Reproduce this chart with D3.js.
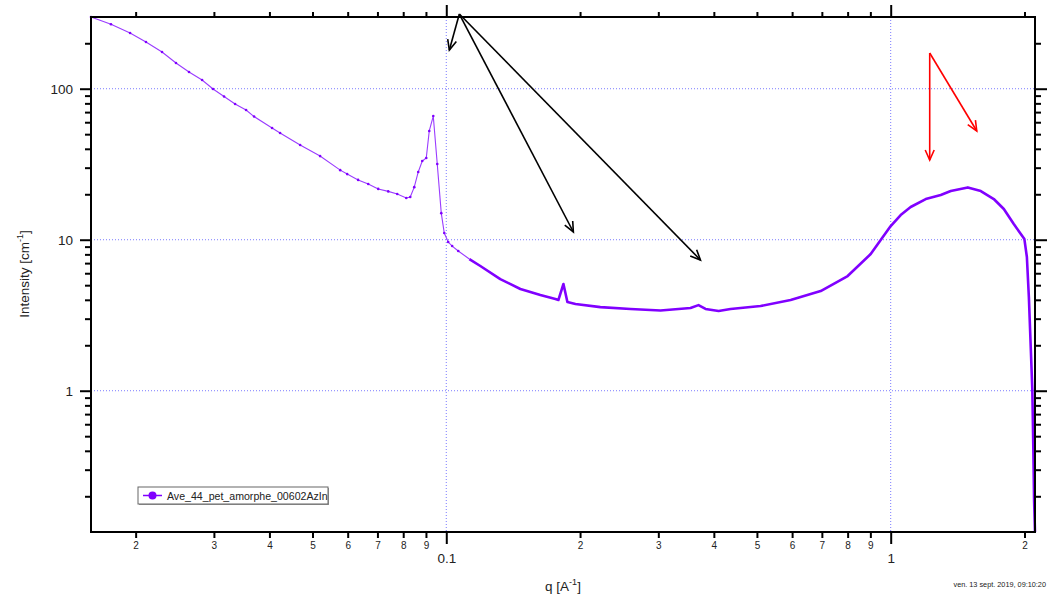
<!DOCTYPE html>
<html><head><meta charset="utf-8">
<script src="https://cdn.jsdelivr.net/npm/d3@7"></script>
<style>
body{margin:0;background:#fff;}
svg{display:block;font-family:Arial,"Liberation Sans",sans-serif;}
</style>
</head><body>
<svg id="c" width="1049" height="598"></svg>
<script>
// ---- data ----
const q = [0.01587,0.0176,0.01943,0.0211,0.02293,0.02465,0.02637,0.02822,0.02987,0.03162,
  0.03348,0.03544,0.03694,0.04055,0.04227,0.0469,0.052,0.05773,0.05984,0.06333,
  0.06674,0.07028,0.07403,0.07755,0.08127,0.08297,0.08471,0.08648,0.08829,0.09015,
  0.09156,0.09348,0.09543,0.09744,0.09896,0.101,0.1031,0.1064,0.1127,0.1193,
  0.1323,0.1468,0.1628,0.176,0.1788,0.1835,0.1873,0.1953,0.2222,0.2597,
  0.3034,0.3544,0.3694,0.3831,0.41,0.4362,0.5095,0.5954,0.6957,0.8001,
  0.9016,0.9495,1.0,1.053,1.109,1.199,1.296,1.365,1.491,1.595,
  1.706,1.797,1.892,1.999,2.025,2.046,2.067,2.083,2.094,2.102,2.112];
const intensity = [298.5,267,233.8,203.9,175,148,129,114.2,99.5,88.8,
  79.2,72.3,65.4,54.9,50.9,42.4,35.8,28.9,27.2,24.9,
  23.4,21.7,20.9,20.1,18.9,19.2,22.3,28.1,33.2,34.8,
  52.5,65.9,31.7,15.0,11.08,9.65,9.08,8.42,7.45,6.70,
  5.49,4.72,4.30,4.05,3.99,5.09,3.87,3.75,3.58,3.48,
  3.40,3.53,3.69,3.48,3.37,3.48,3.64,3.99,4.57,5.75,
  8.04,9.95,12.32,14.57,16.47,18.60,19.77,21.0,22.2,21.0,
  18.6,15.97,12.71,10.1,7.68,4.17,1.86,1.01,0.405,0.189,0.116];
const seriesName = "Ave_44_pet_amorphe_00602AzIn";

const xDomain = [0.01587, 2.112];
const yDomain = [0.116, 298.5];

const xMajorTicks = [0.1, 1];
const xMajorLabels = ["0.1", "1"];
const xMinorTicks = [0.02,0.03,0.04,0.05,0.06,0.07,0.08,0.09,0.2,0.3,0.4,0.5,0.6,0.7,0.8,0.9,2];
const xMinorLabels = ["2","3","4","5","6","7","8","9","2","3","4","5","6","7","8","9","2"];
const yMajorTicks = [1, 10, 100];
const yMajorLabels = ["1", "10", "100"];
const yMinorTicks = [0.2,0.3,0.4,0.5,0.6,0.7,0.8,0.9,2,3,4,5,6,7,8,9,20,30,40,50,60,70,80,90,200];

const xTitle = "q [A";
const yTitle = "Intensity [cm";
const dateStamp = "ven. 13 sept. 2019, 09:10:20";

// annotation arrows, in data coordinates [q, I]
const blackArrowFrom = [0.1070, 312.4];
const blackArrowTips = [[0.1016, 180.4], [0.1932, 11.25], [0.3732, 7.34]];
const redArrowFrom = [1.224, 172.4];
const redArrowTips = [[1.224, 33.7], [1.562, 52.5]];

// ---- layout ----
const L = 91, T = 17, R = 1035, B = 532;
const svg = d3.select("#c");
const x = d3.scaleLog().domain(xDomain).range([L, R]);
const y = d3.scaleLog().domain(yDomain).range([B, T]);

const purple = "#8000ff";
const gridColor = "#7b7bff";

// grid
const g = svg.append("g");
g.selectAll(".gy").data(yMajorTicks).join("line")
  .attr("x1", L).attr("x2", R).attr("y1", d => y(d)).attr("y2", d => y(d))
  .attr("stroke", gridColor).attr("stroke-width", 1).attr("stroke-dasharray", "1,2");
g.selectAll(".gx").data(xMajorTicks).join("line")
  .attr("y1", T).attr("y2", B).attr("x1", d => x(d)).attr("x2", d => x(d))
  .attr("stroke", gridColor).attr("stroke-width", 1).attr("stroke-dasharray", "1,2");

// data
const pts = q.map((v, i) => ({q: v, I: intensity[i]}));
const line = d3.line().x(d => x(d.q)).y(d => y(d.I));
const splitIdx = q.findIndex(v => v >= 0.112);
svg.append("path").datum(pts.slice(0, splitIdx + 1)).attr("d", line)
  .attr("fill", "none").attr("stroke", "#9a3cff").attr("stroke-width", 1.1);
svg.append("path").datum(pts.slice(splitIdx)).attr("d", line)
  .attr("fill", "none").attr("stroke", purple).attr("stroke-width", 2.6)
  .attr("stroke-linejoin", "round");
svg.append("g").selectAll("circle").data(pts.slice(0, splitIdx)).join("circle")
  .attr("cx", d => x(d.q)).attr("cy", d => y(d.I)).attr("r", 1.3).attr("fill", purple);

// axes
function styleAxis(sel, fontSize) {
  sel.select(".domain").remove();
  sel.selectAll(".tick line").attr("stroke", "#000").attr("stroke-width", 2);
  sel.selectAll(".tick text").attr("fill", "#222").attr("font-size", fontSize)
    .attr("font-family", "Arial, 'Liberation Sans', sans-serif");
}
// bottom
svg.append("g").attr("transform", `translate(0,${B})`)
  .call(d3.axisBottom(x).tickValues(xMajorTicks).tickSize(12).tickPadding(9)
    .tickFormat((d, i) => xMajorLabels[i])).call(s => styleAxis(s, 13.5));
svg.append("g").attr("transform", `translate(0,${B})`)
  .call(d3.axisBottom(x).tickValues(xMinorTicks).tickSize(6).tickPadding(4)
    .tickFormat((d, i) => xMinorLabels[i])).call(s => styleAxis(s, 10));
// top
svg.append("g").attr("transform", `translate(0,${T})`)
  .call(d3.axisTop(x).tickValues(xMajorTicks).tickSize(12).tickFormat(""))
  .call(s => styleAxis(s, 10));
svg.append("g").attr("transform", `translate(0,${T})`)
  .call(d3.axisTop(x).tickValues(xMinorTicks).tickSize(5).tickFormat(""))
  .call(s => styleAxis(s, 10));
// left
svg.append("g").attr("transform", `translate(${L},0)`)
  .call(d3.axisLeft(y).tickValues(yMajorTicks).tickSize(11).tickPadding(7)
    .tickFormat((d, i) => yMajorLabels[i])).call(s => styleAxis(s, 13.5));
svg.append("g").attr("transform", `translate(${L},0)`)
  .call(d3.axisLeft(y).tickValues(yMinorTicks).tickSize(6).tickFormat(""))
  .call(s => styleAxis(s, 10));
// right
svg.append("g").attr("transform", `translate(${R},0)`)
  .call(d3.axisRight(y).tickValues(yMajorTicks).tickSize(12).tickFormat(""))
  .call(s => styleAxis(s, 10));
svg.append("g").attr("transform", `translate(${R},0)`)
  .call(d3.axisRight(y).tickValues(yMinorTicks).tickSize(6).tickFormat(""))
  .call(s => styleAxis(s, 10));

// frame
svg.append("rect").attr("x", L).attr("y", T).attr("width", R - L).attr("height", B - T)
  .attr("fill", "none").attr("stroke", "#000").attr("stroke-width", 2);

// axis titles
const yt = svg.append("text").attr("transform", "translate(29,274) rotate(-90)")
  .attr("text-anchor", "middle").attr("font-size", 13.5).attr("fill", "#222");
yt.append("tspan").text(yTitle);
yt.append("tspan").attr("font-size", 9).attr("dy", -6).text("-1");
yt.append("tspan").attr("dy", 6).text("]");

const xt = svg.append("text").attr("x", 563).attr("y", 591)
  .attr("text-anchor", "middle").attr("font-size", 13.5).attr("fill", "#222");
xt.append("tspan").text(xTitle);
xt.append("tspan").attr("font-size", 9).attr("dy", -6).text("-1");
xt.append("tspan").attr("dy", 6).text("]");

svg.append("text").attr("x", 1046).attr("y", 587).attr("text-anchor", "end")
  .attr("font-size", 7.3).attr("fill", "#222").text(dateStamp);

// legend
const lg = svg.append("g");
lg.append("rect").attr("x", 139).attr("y", 488).attr("width", 190).attr("height", 17)
  .attr("fill", "#999");
lg.append("rect").attr("x", 138).attr("y", 487).attr("width", 190).attr("height", 17)
  .attr("fill", "#fff").attr("stroke", "#666").attr("stroke-width", 1);
lg.append("line").attr("x1", 143).attr("x2", 162).attr("y1", 495.5).attr("y2", 495.5)
  .attr("stroke", purple).attr("stroke-width", 1.5);
lg.append("circle").attr("cx", 152.5).attr("cy", 495.5).attr("r", 4).attr("fill", purple);
lg.append("text").attr("x", 167).attr("y", 499.5).attr("font-size", 10.6)
  .attr("fill", "#222").text(seriesName);

// arrows
function arrow(from, to, color) {
  const x1 = x(from[0]), y1 = y(from[1]), x2 = x(to[0]), y2 = y(to[1]);
  const a = Math.atan2(y2 - y1, x2 - x1), len = 11, spread = 0.42;
  svg.append("line").attr("x1", x1).attr("y1", y1).attr("x2", x2).attr("y2", y2)
    .attr("stroke", color).attr("stroke-width", 1.6);
  const p = d3.path();
  p.moveTo(x2 - len * Math.cos(a - spread), y2 - len * Math.sin(a - spread));
  p.lineTo(x2, y2);
  p.lineTo(x2 - len * Math.cos(a + spread), y2 - len * Math.sin(a + spread));
  svg.append("path").attr("d", p.toString()).attr("fill", "none")
    .attr("stroke", color).attr("stroke-width", 1.6);
}
blackArrowTips.forEach(t => arrow(blackArrowFrom, t, "#000"));
redArrowTips.forEach(t => arrow(redArrowFrom, t, "#ff0000"));
</script>
</body></html>
